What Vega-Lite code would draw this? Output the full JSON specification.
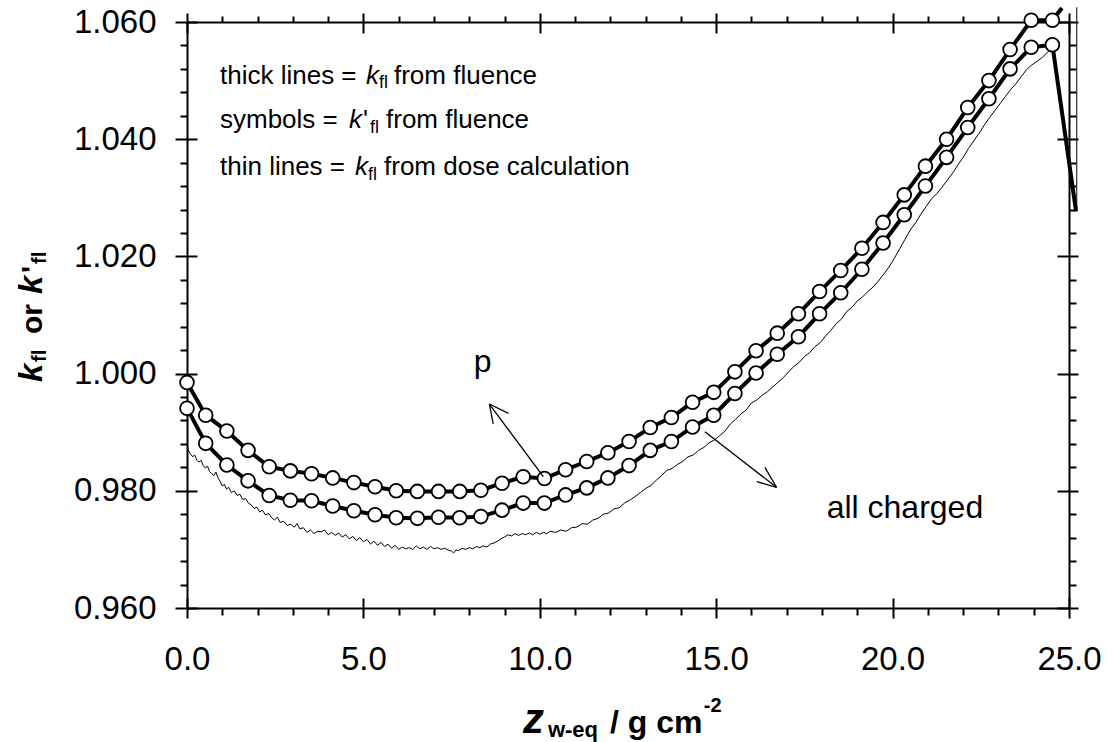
{
  "$schema": "https://vega.github.io/schema/vega-lite/v6.json",
  "width": 882,
  "height": 586,
  "autosize": {"type": "none"},
  "padding": {"left": 187, "top": 22, "right": 45, "bottom": 134},
  "background": "white",
  "config": {"view": {"stroke": null}, "font": "Liberation Sans"},
  "datasets": {
    "thin": [
      {"s":"a","x":0.00,"y":0.9882},{"s":"a","x":0.04,"y":0.9868},{"s":"a","x":0.10,"y":0.9863},{"s":"a","x":0.16,"y":0.9858},
      {"s":"a","x":0.22,"y":0.9861},{"s":"a","x":0.28,"y":0.9852},{"s":"a","x":0.34,"y":0.9849},{"s":"a","x":0.40,"y":0.9852},
      {"s":"a","x":0.46,"y":0.9843},{"s":"a","x":0.52,"y":0.9839},{"s":"a","x":0.58,"y":0.9842},{"s":"a","x":0.64,"y":0.9833},
      {"s":"a","x":0.70,"y":0.9829},{"s":"a","x":0.76,"y":0.9826},{"s":"a","x":0.82,"y":0.9832},{"s":"a","x":0.88,"y":0.9822},
      {"s":"a","x":0.94,"y":0.9816},{"s":"a","x":1.00,"y":0.9808},{"s":"a","x":1.06,"y":0.9811},{"s":"a","x":1.12,"y":0.9803},
      {"s":"a","x":1.18,"y":0.9806},{"s":"a","x":1.26,"y":0.9797},{"s":"a","x":1.34,"y":0.9800},{"s":"a","x":1.42,"y":0.9792},
      {"s":"a","x":1.50,"y":0.9794},{"s":"a","x":1.58,"y":0.9785},{"s":"a","x":1.66,"y":0.9787},{"s":"a","x":1.74,"y":0.9779},
      {"s":"a","x":1.82,"y":0.9776},{"s":"a","x":1.90,"y":0.9770},{"s":"a","x":1.98,"y":0.9772},{"s":"a","x":2.06,"y":0.9764},
      {"s":"a","x":2.14,"y":0.9767},{"s":"a","x":2.22,"y":0.9759},{"s":"a","x":2.32,"y":0.9761},{"s":"a","x":2.40,"y":0.9754},
      {"s":"a","x":2.48,"y":0.9750},{"s":"a","x":2.56,"y":0.9755},{"s":"a","x":2.64,"y":0.9746},{"s":"a","x":2.74,"y":0.9748},
      {"s":"a","x":2.84,"y":0.9741},{"s":"a","x":2.94,"y":0.9743},{"s":"a","x":3.04,"y":0.9738},{"s":"a","x":3.12,"y":0.9744},
      {"s":"a","x":3.20,"y":0.9735},{"s":"a","x":3.30,"y":0.9737},{"s":"a","x":3.40,"y":0.9729},{"s":"a","x":3.50,"y":0.9733},
      {"s":"a","x":3.60,"y":0.9727},{"s":"a","x":3.70,"y":0.9731},{"s":"a","x":3.80,"y":0.9730},{"s":"a","x":3.90,"y":0.9733},
      {"s":"a","x":4.00,"y":0.9725},{"s":"a","x":4.10,"y":0.9729},{"s":"a","x":4.20,"y":0.9724},{"s":"a","x":4.30,"y":0.9728},
      {"s":"a","x":4.40,"y":0.9721},{"s":"a","x":4.50,"y":0.9725},{"s":"a","x":4.60,"y":0.9718},{"s":"a","x":4.70,"y":0.9722},
      {"s":"a","x":4.80,"y":0.9715},{"s":"a","x":4.90,"y":0.9720},{"s":"a","x":5.00,"y":0.9713},{"s":"a","x":5.10,"y":0.9717},
      {"s":"a","x":5.20,"y":0.9709},{"s":"a","x":5.30,"y":0.9714},{"s":"a","x":5.40,"y":0.9707},{"s":"a","x":5.50,"y":0.9712},
      {"s":"a","x":5.60,"y":0.9705},{"s":"a","x":5.70,"y":0.9709},{"s":"a","x":5.80,"y":0.9702},{"s":"a","x":5.90,"y":0.9707},
      {"s":"a","x":6.00,"y":0.9700},{"s":"a","x":6.10,"y":0.9704},{"s":"a","x":6.20,"y":0.9701},{"s":"a","x":6.30,"y":0.9703},
      {"s":"a","x":6.40,"y":0.9700},{"s":"a","x":6.50,"y":0.9706},{"s":"a","x":6.60,"y":0.9701},{"s":"a","x":6.70,"y":0.9704},
      {"s":"a","x":6.80,"y":0.9700},{"s":"a","x":6.90,"y":0.9705},{"s":"a","x":7.00,"y":0.9701},{"s":"a","x":7.10,"y":0.9703},
      {"s":"a","x":7.20,"y":0.9700},{"s":"a","x":7.30,"y":0.9702},{"s":"a","x":7.40,"y":0.9699},{"s":"a","x":7.50,"y":0.9697},
      {"s":"a","x":7.56,"y":0.9694},{"s":"a","x":7.62,"y":0.9699},{"s":"a","x":7.70,"y":0.9698},{"s":"a","x":7.80,"y":0.9702},
      {"s":"a","x":7.90,"y":0.9700},{"s":"a","x":8.00,"y":0.9703},{"s":"a","x":8.10,"y":0.9701},{"s":"a","x":8.20,"y":0.9705},
      {"s":"a","x":8.30,"y":0.9703},{"s":"a","x":8.40,"y":0.9706},{"s":"a","x":8.50,"y":0.9704},{"s":"a","x":8.60,"y":0.9709},
      {"s":"a","x":8.70,"y":0.9711},{"s":"a","x":8.80,"y":0.9714},{"s":"a","x":8.90,"y":0.9718},{"s":"a","x":9.00,"y":0.9721},
      {"s":"a","x":9.10,"y":0.9725},{"s":"a","x":9.20,"y":0.9723},{"s":"a","x":9.30,"y":0.9727},{"s":"a","x":9.40,"y":0.9724},
      {"s":"a","x":9.50,"y":0.9727},{"s":"a","x":9.60,"y":0.9725},{"s":"a","x":9.70,"y":0.9728},{"s":"a","x":9.80,"y":0.9725},
      {"s":"a","x":9.90,"y":0.9729},{"s":"a","x":10.00,"y":0.9726},{"s":"a","x":10.10,"y":0.9729},{"s":"a","x":10.20,"y":0.9727},
      {"s":"a","x":10.30,"y":0.9731},{"s":"a","x":10.45,"y":0.9729},{"s":"a","x":10.60,"y":0.9733},{"s":"a","x":10.75,"y":0.9731},
      {"s":"a","x":10.90,"y":0.9737},{"s":"a","x":11.05,"y":0.9738},{"s":"a","x":11.20,"y":0.9744},{"s":"a","x":11.35,"y":0.9743},
      {"s":"a","x":11.50,"y":0.9750},{"s":"a","x":11.65,"y":0.9753},{"s":"a","x":11.80,"y":0.9760},{"s":"a","x":11.95,"y":0.9762},
      {"s":"a","x":12.10,"y":0.9769},{"s":"a","x":12.25,"y":0.9771},{"s":"a","x":12.40,"y":0.9779},{"s":"a","x":12.55,"y":0.9784},
      {"s":"a","x":12.70,"y":0.9790},{"s":"a","x":12.85,"y":0.9797},{"s":"a","x":13.00,"y":0.9804},{"s":"a","x":13.15,"y":0.9809},
      {"s":"a","x":13.30,"y":0.9818},{"s":"a","x":13.45,"y":0.9826},{"s":"a","x":13.60,"y":0.9835},{"s":"a","x":13.75,"y":0.9838},
      {"s":"a","x":13.90,"y":0.9845},{"s":"a","x":14.05,"y":0.9850},{"s":"a","x":14.20,"y":0.9858},{"s":"a","x":14.35,"y":0.9861},
      {"s":"a","x":14.50,"y":0.9869},{"s":"a","x":14.65,"y":0.9874},{"s":"a","x":14.80,"y":0.9882},{"s":"a","x":14.95,"y":0.9887},
      {"s":"a","x":15.10,"y":0.9894},{"s":"a","x":15.25,"y":0.9902},{"s":"a","x":15.40,"y":0.9914},{"s":"a","x":15.55,"y":0.9922},
      {"s":"a","x":15.70,"y":0.9931},{"s":"a","x":15.85,"y":0.9938},{"s":"a","x":16.00,"y":0.9950},{"s":"a","x":16.15,"y":0.9955},
      {"s":"a","x":16.30,"y":0.9963},{"s":"a","x":16.45,"y":0.9969},{"s":"a","x":16.60,"y":0.9977},{"s":"a","x":16.75,"y":0.9985},
      {"s":"a","x":16.90,"y":0.9993},{"s":"a","x":17.05,"y":1.0003},{"s":"a","x":17.20,"y":1.0012},{"s":"a","x":17.35,"y":1.0019},
      {"s":"a","x":17.50,"y":1.0029},{"s":"a","x":17.65,"y":1.0036},{"s":"a","x":17.80,"y":1.0046},{"s":"a","x":17.95,"y":1.0053},
      {"s":"a","x":18.10,"y":1.0064},{"s":"a","x":18.25,"y":1.0074},{"s":"a","x":18.40,"y":1.0085},{"s":"a","x":18.55,"y":1.0093},
      {"s":"a","x":18.70,"y":1.0106},{"s":"a","x":18.85,"y":1.0113},{"s":"a","x":19.00,"y":1.0124},{"s":"a","x":19.15,"y":1.0131},
      {"s":"a","x":19.30,"y":1.0140},{"s":"a","x":19.45,"y":1.0148},{"s":"a","x":19.60,"y":1.0158},{"s":"a","x":19.75,"y":1.0170},
      {"s":"a","x":19.90,"y":1.0182},{"s":"a","x":20.05,"y":1.0197},{"s":"a","x":20.20,"y":1.0213},{"s":"a","x":20.35,"y":1.0229},
      {"s":"a","x":20.50,"y":1.0245},{"s":"a","x":20.65,"y":1.0257},{"s":"a","x":20.80,"y":1.0272},{"s":"a","x":20.95,"y":1.0285},
      {"s":"a","x":21.10,"y":1.0298},{"s":"a","x":21.25,"y":1.0307},{"s":"a","x":21.40,"y":1.0318},{"s":"a","x":21.55,"y":1.0330},
      {"s":"a","x":21.70,"y":1.0342},{"s":"a","x":21.85,"y":1.0356},{"s":"a","x":22.00,"y":1.0369},{"s":"a","x":22.15,"y":1.0384},
      {"s":"a","x":22.30,"y":1.0397},{"s":"a","x":22.45,"y":1.0410},{"s":"a","x":22.60,"y":1.0424},{"s":"a","x":22.75,"y":1.0437},
      {"s":"a","x":22.90,"y":1.0449},{"s":"a","x":23.05,"y":1.0461},{"s":"a","x":23.20,"y":1.0473},{"s":"a","x":23.35,"y":1.0485},
      {"s":"a","x":23.50,"y":1.0495},{"s":"a","x":23.65,"y":1.0507},{"s":"a","x":23.80,"y":1.0519},{"s":"a","x":23.95,"y":1.0527},
      {"s":"a","x":24.10,"y":1.0533},{"s":"a","x":24.25,"y":1.0540},{"s":"a","x":24.40,"y":1.0549},{"s":"a","x":24.50,"y":1.0553},
      {"s":"b","x":25.22,"y":1.0625},{"s":"b","x":25.22,"y":1.0280}
    ],
    "thick": [
      {"c":"p","x":0,"y":0.9985},{"c":"p","x":0.53,"y":0.9929},{"c":"p","x":1.13,"y":0.9902},{"c":"p","x":1.73,"y":0.9869},
      {"c":"p","x":2.33,"y":0.9841},{"c":"p","x":2.93,"y":0.9834},{"c":"p","x":3.53,"y":0.9829},{"c":"p","x":4.13,"y":0.9822},
      {"c":"p","x":4.73,"y":0.9814},{"c":"p","x":5.33,"y":0.9807},{"c":"p","x":5.93,"y":0.9800},{"c":"p","x":6.53,"y":0.9799},
      {"c":"p","x":7.13,"y":0.9799},{"c":"p","x":7.73,"y":0.9799},{"c":"p","x":8.33,"y":0.9801},{"c":"p","x":8.93,"y":0.9813},
      {"c":"p","x":9.53,"y":0.9824},{"c":"p","x":10.13,"y":0.9821},{"c":"p","x":10.73,"y":0.9836},{"c":"p","x":11.33,"y":0.9850},
      {"c":"p","x":11.93,"y":0.9865},{"c":"p","x":12.53,"y":0.9884},{"c":"p","x":13.13,"y":0.9908},{"c":"p","x":13.73,"y":0.9925},
      {"c":"p","x":14.33,"y":0.9951},{"c":"p","x":14.93,"y":0.9968},{"c":"p","x":15.53,"y":1.0003},{"c":"p","x":16.13,"y":1.0039},
      {"c":"p","x":16.73,"y":1.0069},{"c":"p","x":17.33,"y":1.0102},{"c":"p","x":17.93,"y":1.0140},{"c":"p","x":18.53,"y":1.0176},
      {"c":"p","x":19.13,"y":1.0214},{"c":"p","x":19.73,"y":1.0258},{"c":"p","x":20.33,"y":1.0305},{"c":"p","x":20.93,"y":1.0354},
      {"c":"p","x":21.53,"y":1.0400},{"c":"p","x":22.13,"y":1.0454},{"c":"p","x":22.73,"y":1.0500},{"c":"p","x":23.33,"y":1.0553},
      {"c":"p","x":23.93,"y":1.0603},{"c":"p","x":24.53,"y":1.0603},{"c":"p","x":24.80,"y":1.0624},
      {"c":"all","x":0,"y":0.9941},{"c":"all","x":0.53,"y":0.9881},{"c":"all","x":1.13,"y":0.9844},{"c":"all","x":1.73,"y":0.9817},
      {"c":"all","x":2.33,"y":0.9792},{"c":"all","x":2.93,"y":0.9784},{"c":"all","x":3.53,"y":0.9783},{"c":"all","x":4.13,"y":0.9774},
      {"c":"all","x":4.73,"y":0.9766},{"c":"all","x":5.33,"y":0.9759},{"c":"all","x":5.93,"y":0.9754},{"c":"all","x":6.53,"y":0.9753},
      {"c":"all","x":7.13,"y":0.9755},{"c":"all","x":7.73,"y":0.9754},{"c":"all","x":8.33,"y":0.9756},{"c":"all","x":8.93,"y":0.9767},
      {"c":"all","x":9.53,"y":0.9779},{"c":"all","x":10.13,"y":0.9779},{"c":"all","x":10.73,"y":0.9793},{"c":"all","x":11.33,"y":0.9805},
      {"c":"all","x":11.93,"y":0.9822},{"c":"all","x":12.53,"y":0.9843},{"c":"all","x":13.13,"y":0.9869},{"c":"all","x":13.73,"y":0.9884},
      {"c":"all","x":14.33,"y":0.9909},{"c":"all","x":14.93,"y":0.9929},{"c":"all","x":15.53,"y":0.9966},{"c":"all","x":16.13,"y":1.0001},
      {"c":"all","x":16.73,"y":1.0033},{"c":"all","x":17.33,"y":1.0063},{"c":"all","x":17.93,"y":1.0102},{"c":"all","x":18.53,"y":1.0138},
      {"c":"all","x":19.13,"y":1.0178},{"c":"all","x":19.73,"y":1.0223},{"c":"all","x":20.33,"y":1.0271},{"c":"all","x":20.93,"y":1.0320},
      {"c":"all","x":21.53,"y":1.0369},{"c":"all","x":22.13,"y":1.0420},{"c":"all","x":22.73,"y":1.0469},{"c":"all","x":23.33,"y":1.0520},
      {"c":"all","x":23.93,"y":1.0557},{"c":"all","x":24.53,"y":1.0561},{"c":"all","x":25.20,"y":1.0277}
    ],
    "arrows": [
      {"x":10.10,"y":0.9824,"x2":8.57,"y2":0.99481},
      {"x":8.57,"y":0.99481,"x2":9.11,"y2":0.99322},
      {"x":8.57,"y":0.99481,"x2":8.68,"y2":0.99140},
      {"x":14.68,"y":0.99009,"x2":16.71,"y2":0.98060},
      {"x":16.71,"y":0.98060,"x2":16.15,"y2":0.98155},
      {"x":16.71,"y":0.98060,"x2":16.38,"y2":0.98401}
    ],
    "notes": [
      {"k":"leg","t":"thick lines = ","x":0.935,"y":1.0495},
      {"k":"legit","t":"k","x":5.074,"y":1.0495},
      {"k":"legsub","t":"fl","x":5.442,"y":1.0487},
      {"k":"leg","t":"from fluence","x":5.867,"y":1.0495},
      {"k":"leg","t":"symbols = ","x":0.935,"y":1.0419},
      {"k":"legit","t":"k","x":4.592,"y":1.0419},
      {"k":"leg","t":"'","x":4.989,"y":1.0419},
      {"k":"legsub","t":"fl","x":5.187,"y":1.0411},
      {"k":"leg","t":"from fluence","x":5.641,"y":1.0419},
      {"k":"leg","t":"thin lines = ","x":0.935,"y":1.0339},
      {"k":"legit","t":"k","x":4.762,"y":1.0339},
      {"k":"legsub","t":"fl","x":5.130,"y":1.0331},
      {"k":"leg","t":"from dose calculation","x":5.584,"y":1.0339},
      {"k":"lab","t":"p","x":8.13,"y":1.0003},
      {"k":"lab","t":"all charged","x":18.13,"y":0.9753},
      {"k":"xz","t":"z","x":9.524,"y":0.93867},
      {"k":"xsub","t":"w-eq","x":10.23,"y":0.93799},
      {"k":"xmain","t":"/ g cm","x":11.99,"y":0.93867},
      {"k":"xsup","t":"-2","x":14.65,"y":0.94225},
      {"k":"yk","t":"k","x":-4.11,"y":0.99857},
      {"k":"ysub","t":"fl","x":-4.0,"y":1.00198},
      {"k":"ymain","t":"or","x":-4.11,"y":1.00676},
      {"k":"yk","t":"k","x":-4.11,"y":1.01358},
      {"k":"ymain","t":"'","x":-4.11,"y":1.01717},
      {"k":"ysub","t":"fl","x":-4.0,"y":1.01870}
    ]
  },
  "resolve": {"axis": {"x": "independent", "y": "independent"}},
  "layer": [
    {
      "data": {"name": "thin"},
      "mark": {"type": "line", "color": "black", "strokeWidth": 1, "interpolate": "linear"},
      "encoding": {
        "detail": {"field": "s"},
        "x": {"field": "x", "type": "quantitative", "scale": {"domain": [0, 25], "nice": false, "zero": false},
          "axis": {"orient": "bottom", "title": null, "grid": false,
            "values": [0,1,2,3,4,5,6,7,8,9,10,11,12,13,14,15,16,17,18,19,20,21,22,23,24,25],
            "labelExpr": "datum.value % 5 == 0 ? format(datum.value, '.1f') : ''",
            "tickSize": 10, "tickWidth": 2, "tickColor": "black",
            "tickDash": {"condition": {"test": "datum.value % 5 != 0", "value": [7, 40]}, "value": [1, 0]},
            "domainWidth": 2, "domainColor": "black",
            "labelFont": "Liberation Sans", "labelFontSize": 33, "labelColor": "black", "labelPadding": 25,
            "labelFlush": false, "labelOverlap": false}},
        "y": {"field": "y", "type": "quantitative", "scale": {"domain": [0.96, 1.06], "nice": false, "zero": false},
          "axis": {"orient": "left", "title": null, "grid": false,
            "values": [0.96,0.964,0.968,0.972,0.976,0.98,0.984,0.988,0.992,0.996,1.0,1.004,1.008,1.012,1.016,1.02,1.024,1.028,1.032,1.036,1.04,1.044,1.048,1.052,1.056,1.06],
            "labelExpr": "round(datum.value * 1000) % 20 == 0 ? format(datum.value, '.3f') : ''",
            "tickSize": 12, "tickWidth": 2, "tickColor": "black",
            "tickDash": {"condition": {"test": "round(datum.value * 1000) % 20 != 0", "value": [7, 40]}, "value": [1, 0]},
            "domainWidth": 2, "domainColor": "black",
            "labelFont": "Liberation Sans", "labelFontSize": 33, "labelColor": "black", "labelPadding": 19,
            "labelFlush": false, "labelOverlap": false}}
      }
    },
    {
      "data": {"name": "thick"},
      "mark": {"type": "line", "color": "black", "strokeWidth": 4},
      "encoding": {
        "detail": {"field": "c"},
        "x": {"field": "x", "type": "quantitative",
          "axis": {"orient": "bottom", "title": null, "grid": false, "values": [0,5,10,15,20,25], "offset": -10,
            "tickSize": 10, "tickWidth": 2, "tickColor": "black", "labels": false, "domain": false}},
        "y": {"field": "y", "type": "quantitative",
          "axis": {"orient": "left", "title": null, "grid": false, "values": [0.96,0.98,1.0,1.02,1.04,1.06], "offset": -10,
            "tickSize": 10, "tickWidth": 2, "tickColor": "black", "labels": false, "domain": false}}
      }
    },
    {
      "data": {"name": "thick"},
      "transform": [{"filter": "datum.x <= 24.6"}],
      "mark": {"type": "point", "shape": "circle", "filled": true, "fill": "white", "stroke": "black", "strokeWidth": 1.8, "size": 190, "opacity": 1},
      "encoding": {
        "x": {"field": "x", "type": "quantitative",
          "axis": {"orient": "top", "title": null, "grid": false,
            "values": [0,1,2,3,4,5,6,7,8,9,10,11,12,13,14,15,16,17,18,19,20,21,22,23,24,25],
            "tickSize": 9, "tickWidth": 2, "tickColor": "black",
            "tickDash": {"condition": {"test": "datum.value % 5 != 0", "value": [6, 40]}, "value": [1, 0]},
            "labels": false, "domainWidth": 2, "domainColor": "black"}},
        "y": {"field": "y", "type": "quantitative",
          "axis": {"orient": "right", "title": null, "grid": false,
            "values": [0.96,0.964,0.968,0.972,0.976,0.98,0.984,0.988,0.992,0.996,1.0,1.004,1.008,1.012,1.016,1.02,1.024,1.028,1.032,1.036,1.04,1.044,1.048,1.052,1.056,1.06],
            "tickSize": 9, "tickWidth": 2, "tickColor": "black",
            "tickDash": {"condition": {"test": "round(datum.value * 1000) % 20 != 0", "value": [7, 40]}, "value": [1, 0]},
            "labels": false, "domainWidth": 2, "domainColor": "black"}}
      }
    },
    {
      "data": {"name": "arrows"},
      "mark": {"type": "rule", "color": "black", "strokeWidth": 1.3},
      "encoding": {
        "x": {"field": "x", "type": "quantitative",
          "axis": {"orient": "top", "title": null, "grid": false, "values": [0,5,10,15,20,25], "offset": -11,
            "tickSize": 11, "tickWidth": 2, "tickColor": "black", "labels": false, "domain": false}},
        "y": {"field": "y", "type": "quantitative",
          "axis": {"orient": "right", "title": null, "grid": false, "values": [0.96,0.98,1.0,1.02,1.04,1.06], "offset": -12,
            "tickSize": 12, "tickWidth": 2, "tickColor": "black", "labels": false, "domain": false}},
        "x2": {"field": "x2"},
        "y2": {"field": "y2"}
      }
    },
    {
      "data": {"name": "notes"},
      "transform": [{"filter": "datum.k == 'leg'"}],
      "mark": {"type": "text", "align": "left", "baseline": "alphabetic", "font": "Liberation Sans", "fontSize": 26, "color": "black"},
      "encoding": {"x": {"field": "x", "type": "quantitative", "axis": null}, "y": {"field": "y", "type": "quantitative", "axis": null}, "text": {"field": "t"}}
    },
    {
      "data": {"name": "notes"},
      "transform": [{"filter": "datum.k == 'legit'"}],
      "mark": {"type": "text", "align": "left", "baseline": "alphabetic", "font": "Liberation Sans", "fontSize": 26, "fontStyle": "italic", "color": "black"},
      "encoding": {"x": {"field": "x", "type": "quantitative", "axis": null}, "y": {"field": "y", "type": "quantitative", "axis": null}, "text": {"field": "t"}}
    },
    {
      "data": {"name": "notes"},
      "transform": [{"filter": "datum.k == 'legsub'"}],
      "mark": {"type": "text", "align": "left", "baseline": "alphabetic", "font": "Liberation Sans", "fontSize": 18, "color": "black"},
      "encoding": {"x": {"field": "x", "type": "quantitative", "axis": null}, "y": {"field": "y", "type": "quantitative", "axis": null}, "text": {"field": "t"}}
    },
    {
      "data": {"name": "notes"},
      "transform": [{"filter": "datum.k == 'lab'"}],
      "mark": {"type": "text", "align": "left", "baseline": "alphabetic", "font": "Liberation Sans", "fontSize": 32, "color": "black"},
      "encoding": {"x": {"field": "x", "type": "quantitative", "axis": null}, "y": {"field": "y", "type": "quantitative", "axis": null}, "text": {"field": "t"}}
    },
    {
      "data": {"name": "notes"},
      "transform": [{"filter": "datum.k == 'xz'"}],
      "mark": {"type": "text", "align": "left", "baseline": "alphabetic", "font": "Liberation Sans", "fontSize": 42, "fontWeight": "bold", "fontStyle": "italic", "color": "black"},
      "encoding": {"x": {"field": "x", "type": "quantitative", "axis": null}, "y": {"field": "y", "type": "quantitative", "axis": null}, "text": {"field": "t"}}
    },
    {
      "data": {"name": "notes"},
      "transform": [{"filter": "datum.k == 'xsub'"}],
      "mark": {"type": "text", "align": "left", "baseline": "alphabetic", "font": "Liberation Sans", "fontSize": 22, "fontWeight": "bold", "color": "black"},
      "encoding": {"x": {"field": "x", "type": "quantitative", "axis": null}, "y": {"field": "y", "type": "quantitative", "axis": null}, "text": {"field": "t"}}
    },
    {
      "data": {"name": "notes"},
      "transform": [{"filter": "datum.k == 'xmain'"}],
      "mark": {"type": "text", "align": "left", "baseline": "alphabetic", "font": "Liberation Sans", "fontSize": 32, "fontWeight": "bold", "color": "black"},
      "encoding": {"x": {"field": "x", "type": "quantitative", "axis": null}, "y": {"field": "y", "type": "quantitative", "axis": null}, "text": {"field": "t"}}
    },
    {
      "data": {"name": "notes"},
      "transform": [{"filter": "datum.k == 'xsup'"}],
      "mark": {"type": "text", "align": "left", "baseline": "alphabetic", "font": "Liberation Sans", "fontSize": 20, "fontWeight": "bold", "color": "black"},
      "encoding": {"x": {"field": "x", "type": "quantitative", "axis": null}, "y": {"field": "y", "type": "quantitative", "axis": null}, "text": {"field": "t"}}
    },
    {
      "data": {"name": "notes"},
      "transform": [{"filter": "datum.k == 'yk'"}],
      "mark": {"type": "text", "align": "left", "baseline": "alphabetic", "angle": 270, "font": "Liberation Sans", "fontSize": 33, "fontWeight": "bold", "fontStyle": "italic", "color": "black"},
      "encoding": {"x": {"field": "x", "type": "quantitative", "axis": null}, "y": {"field": "y", "type": "quantitative", "axis": null}, "text": {"field": "t"}}
    },
    {
      "data": {"name": "notes"},
      "transform": [{"filter": "datum.k == 'ysub'"}],
      "mark": {"type": "text", "align": "left", "baseline": "alphabetic", "angle": 270, "font": "Liberation Sans", "fontSize": 20, "fontWeight": "bold", "color": "black"},
      "encoding": {"x": {"field": "x", "type": "quantitative", "axis": null}, "y": {"field": "y", "type": "quantitative", "axis": null}, "text": {"field": "t"}}
    },
    {
      "data": {"name": "notes"},
      "transform": [{"filter": "datum.k == 'ymain'"}],
      "mark": {"type": "text", "align": "left", "baseline": "alphabetic", "angle": 270, "font": "Liberation Sans", "fontSize": 30, "fontWeight": "bold", "color": "black"},
      "encoding": {"x": {"field": "x", "type": "quantitative", "axis": null}, "y": {"field": "y", "type": "quantitative", "axis": null}, "text": {"field": "t"}}
    }
  ]
}
